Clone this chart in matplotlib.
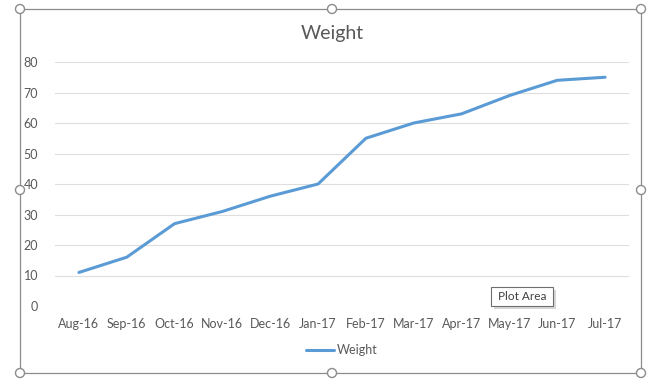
import numpy as np
import matplotlib.pyplot as plt
from matplotlib.patches import Rectangle, Circle

plt.rcParams["font.family"] = ["Lato", "DejaVu Sans"]

months = ["Aug-16", "Sep-16", "Oct-16", "Nov-16", "Dec-16", "Jan-17",
          "Feb-17", "Mar-17", "Apr-17", "May-17", "Jun-17", "Jul-17"]
weight = [11, 16, 27, 31, 36, 40, 55, 60, 63, 69, 74, 75]
y_ticks = [0, 10, 20, 30, 40, 50, 60, 70, 80]

grey = "#595959"
blue = "#5B9BD5"

fig = plt.figure(figsize=(6.57, 3.79), dpi=100)
fig.patch.set_facecolor("white")

# chart frame + selection handles, in pixel coordinates
bg = fig.add_axes([0, 0, 1, 1])
bg.set_xlim(0, 657)
bg.set_ylim(379, 0)
bg.axis("off")
bg.add_patch(Rectangle((20, 9), 621, 364, fill=False, edgecolor="#8c8c8c", lw=0.9))
for cx, cy in [(20, 9), (332, 9), (641, 9), (20, 190), (641, 190),
               (20, 373), (332, 373), (641, 373)]:
    bg.add_patch(Circle((cx, cy), 4.5, facecolor="white", edgecolor="#8c8c8c", lw=1.0, zorder=3))

# plot area
ax = fig.add_axes([55 / 657, 73 / 379, 574 / 657, 244 / 379])
x = np.arange(len(months))
ax.plot(x, weight, color=blue, lw=2.2, solid_capstyle="round", label="Weight", zorder=3)
ax.set_xlim(-0.5, len(months) - 0.5)
ax.set_ylim(0, 80)
ax.set_yticks(y_ticks)
ax.set_xticks(x)
ax.set_xticklabels(months)
ax.grid(axis="y", color="#dedede", lw=0.8)
ax.set_axisbelow(True)
for s in ax.spines.values():
    s.set_visible(False)
ax.tick_params(length=0, labelsize=9, labelcolor=grey)
ax.tick_params(axis="y", pad=12)
ax.tick_params(axis="x", pad=9)
ax.patch.set_alpha(0)

fig.text(332 / 657, 1 - 33 / 379, "Weight", ha="center", va="center", fontsize=14, color=grey)

leg = ax.legend(loc="center", bbox_to_anchor=(0.5, -0.18), frameon=False,
                fontsize=9, handlelength=2.2, handletextpad=0.3)
for t in leg.get_texts():
    t.set_color(grey)

# "Plot Area" tooltip
bg.add_patch(Rectangle((494, 290), 62, 19, facecolor="#bdbdbd", edgecolor="none", alpha=0.6, zorder=4))
bg.add_patch(Rectangle((491, 287), 62, 19, facecolor="white", edgecolor="#6e6e6e", lw=0.8, zorder=5))
bg.text(522, 297, "Plot Area", ha="center", va="center", fontsize=8.5, color="#404040", zorder=6)
bg.set_zorder(2)
bg.patch.set_alpha(0)

plt.savefig("out.png", dpi=100)
